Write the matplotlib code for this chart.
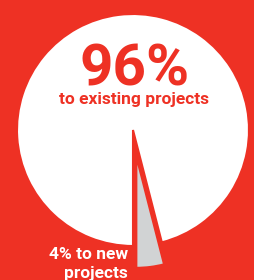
import matplotlib
matplotlib.use('Agg')
import matplotlib.pyplot as plt

# data
labels = ['to existing projects', 'to new projects']
shares = [96, 4]

RED = '#EE3124'
GREY = '#D1D3D4'

fig = plt.figure(figsize=(2.55, 2.8), dpi=100)
fig.patch.set_facecolor(RED)
ax = fig.add_axes([0, 0, 1, 1])
ax.set_facecolor(RED)

# pie starts at 6 o'clock, small slice goes counterclockwise to the right
wedges, _ = ax.pie(shares, colors=['white', GREY], startangle=-90 + shares[1] * 3.6,
                   counterclock=True, explode=[0, 0.23],
                   wedgeprops=dict(edgecolor=RED, linewidth=1.5))
wedges[1].set_radius(0.96)

# 1 data unit = 116 px, centre at (133, 130) px
ax.set_aspect('auto')
ax.set_xlim(-133 / 116, (255 - 133) / 116)
ax.set_ylim(-(280 - 130) / 116, 130 / 116)
ax.axis('off')

font = 'Roboto'
ax.text(0.01, 0.385, f'{shares[0]}%', ha='center', va='baseline', color=RED,
        fontsize=42, fontweight='bold', family=font)
ax.text(0.01, 0.22, labels[0], ha='center', va='baseline', color=RED,
        fontsize=12.5, fontweight='bold', family=font)
ax.text(-0.045, -1.112, f'{shares[1]}% to new', ha='right', va='baseline',
        color='white', fontsize=12.5, fontweight='bold', family=font)
ax.text(-0.045, -1.276, 'projects', ha='right', va='baseline',
        color='white', fontsize=12.5, fontweight='bold', family=font)

fig.savefig('out.png', dpi=100, facecolor=RED)
